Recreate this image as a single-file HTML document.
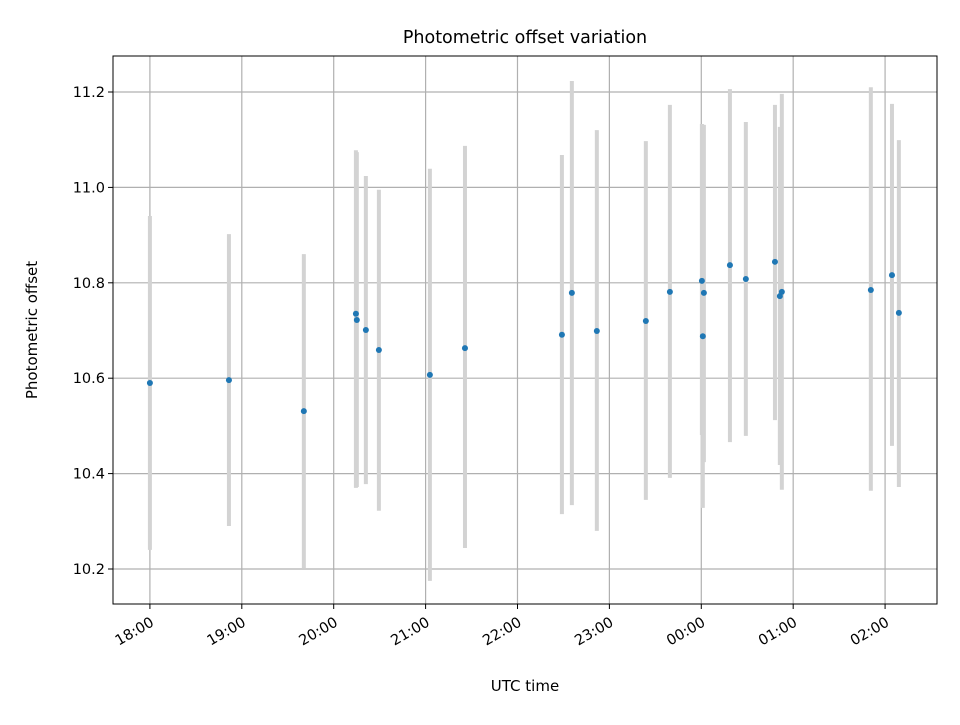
<!DOCTYPE html>
<html><head><meta charset="utf-8"><style>
body{margin:0;background:#fff;font-family:"Liberation Sans","DejaVu Sans",sans-serif}
</style></head><body>
<svg id="chart" width="960" height="720" xmlns="http://www.w3.org/2000/svg" font-family="'DejaVu Sans','Liberation Sans',sans-serif">
<rect width="960" height="720" fill="#fff"/>
<text x="525" y="43" text-anchor="middle" font-size="17.5">Photometric offset variation</text>
<text x="525" y="691" text-anchor="middle" font-size="15">UTC time</text>
<text transform="translate(37,330) rotate(-90)" text-anchor="middle" font-size="15">Photometric offset</text>
<g id="grid"></g><g id="bars"></g><g id="pts"></g><g id="axes"></g>
</svg>
<script>
// minutes after 18:00 UTC
const times=[0,51.6,100.5,134.5,135.1,141,149.5,182.8,205.7,269,275.5,291.8,323.8,339.5,360.4,361,361.7,378.7,389.1,408.1,411.3,412.6,470.7,484.5,489];
const offsets=[10.590,10.596,10.531,10.735,10.722,10.701,10.659,10.607,10.663,10.691,10.779,10.699,10.720,10.781,10.804,10.688,10.779,10.837,10.808,10.844,10.772,10.781,10.785,10.816,10.737];
const upper=[10.940,10.902,10.860,11.078,11.074,11.024,10.995,11.039,11.087,11.068,11.223,11.120,11.097,11.173,11.133,11.131,11.131,11.206,11.137,11.173,11.127,11.196,11.210,11.175,11.099];
const lower=[10.240,10.290,10.202,10.370,10.372,10.378,10.322,10.175,10.244,10.315,10.334,10.280,10.345,10.391,10.481,10.328,10.424,10.466,10.479,10.512,10.418,10.366,10.364,10.458,10.372];
const xTickLabels=["18:00","19:00","20:00","21:00","22:00","23:00","00:00","01:00","02:00"];
const yTickLabels=["10.2","10.4","10.6","10.8","11.0","11.2"];
const L=113,R=937,T=56,B=604;
const xMin=-24.1,xMax=513.9,yMin=10.1266,yMax=11.2755;
const X=m=>L+(m-xMin)/(xMax-xMin)*(R-L);
const Y=v=>B-(v-yMin)/(yMax-yMin)*(B-T);
const NS="http://www.w3.org/2000/svg";
function mk(tag,attrs,parent){const e=document.createElementNS(NS,tag);for(const k in attrs)e.setAttribute(k,attrs[k]);document.getElementById(parent).appendChild(e);return e;}
xTickLabels.forEach((lab,i)=>{
  const x=X(i*60);
  const g=mk("line",{x1:x,x2:x,y1:T,y2:B,stroke:"#b0b0b0","stroke-width":1.2},"grid");
  
  
  const t=mk("line",{x1:x,x2:x,y1:B,y2:B+5,stroke:"#000","stroke-width":1},"axes");
  
  
  const tx=mk("text",{transform:`translate(${x+5},${B+21}) rotate(-30)`,"text-anchor":"end","font-size":14.5},"axes");
  tx.textContent=lab;
  
  
});
yTickLabels.forEach(lab=>{
  const y=Y(parseFloat(lab));
  const g=mk("line",{x1:L,x2:R,y1:y,y2:y,stroke:"#b0b0b0","stroke-width":1.2},"grid");
  
  
  const t=mk("line",{x1:L-5,x2:L,y1:y,y2:y,stroke:"#000","stroke-width":1},"axes");
  
  
  const tx=mk("text",{x:L-8,y:y+5,"text-anchor":"end","font-size":14.5},"axes");
  tx.textContent=lab;
  
  
});
times.forEach((m,i)=>{
  const x=X(m);
  const b=mk("line",{x1:x,x2:x,y1:Y(upper[i]),y2:Y(lower[i]),stroke:"#d3d3d3","stroke-width":4},"bars");
  
  
  const c=mk("circle",{cx:x,cy:Y(offsets[i]),r:3,fill:"#1f77b4"},"pts");
  
  
});
const f=mk("rect",{x:L,y:T,width:R-L,height:B-T,fill:"none",stroke:"#000","stroke-width":1},"axes");


</script>
</body></html>
